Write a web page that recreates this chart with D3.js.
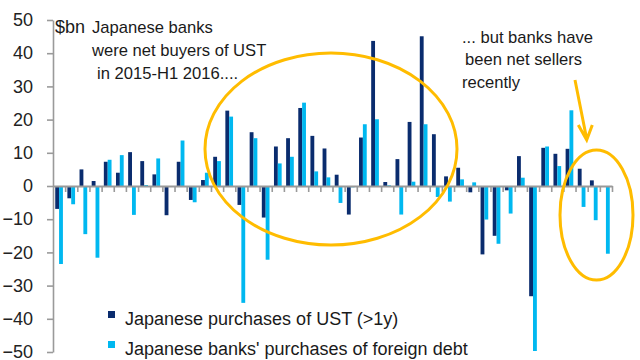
<!DOCTYPE html>
<html>
<head>
<meta charset="utf-8">
<script src="https://cdn.jsdelivr.net/npm/d3@7"></script>
<style>
  html, body { margin: 0; padding: 0; background: #fff; }
  svg { display: block; font-family: "Liberation Sans", Arial, sans-serif; }
</style>
</head>
<body>
<svg id="chart" width="640" height="360"></svg>
<script>
// ---- data (US$ bn, monthly) ----
const categories = d3.range(1, 47).map(i => "M" + i);
const ustPurchases = [-6.9, -3.7, 5.0, 1.5, 7.3, 4.0, 10.2, 7.5, 3.5, -8.8, 7.3, -4.2, 1.8, 8.8, 22.7, -5.7,
  16.2, -9.5, 11.9, 14.4, 23.5, 15.1, 11.3, 3.4, -8.6, 14.6, 43.7, 1.2, 8.1, 19.3, 45.1, 15.6, 2.9, 5.5,
  -1.9, -20.6, -15.0, -1.3, 9.0, -33.2, 11.5, 9.7, 11.2, 5.2, 1.7, 0];
const bankForeignDebt = [-23.5, -5.5, -14.5, -21.6, 7.9, 9.3, -8.7, 0.3, 8.3, -0.3, 13.7, -4.9, 4.0, 7.5, 20.9,
  -35.2, 14.4, -22.2, 6.8, 8.8, 25.1, 4.4, 2.6, -5.1, -0.4, 18.6, 20.1, 0.2, -8.6, 1.3, 18.6, -3.3, -4.7, 2.0,
  1.1, -10.1, -17.4, -8.3, 2.5, -49.7, 11.9, 6.0, 22.8, -6.3, -10.3, -20.4];
const seriesNames = ["Japanese purchases of UST (>1y)", "Japanese banks' purchases of foreign debt"];
const yTicks = [-50, -40, -30, -20, -10, 0, 10, 20, 30, 40, 50];

const colors = ["#0a2c6e", "#00b8f0"];
const svg = d3.select("#chart");

const x0 = 53, x1 = 612, yTop = 20, yBot = 352;
const x = d3.scaleBand().domain(categories).range([x0, x1]).padding(0);
const xs = d3.scaleBand().domain([0, 1]).range([0, x.bandwidth()]).paddingOuter(0.58).paddingInner(0);
const y = d3.scaleLinear().domain([-50, 50]).range([yBot, yTop]);

const rows = categories.map((c, i) => ({ c, v: [ustPurchases[i], bankForeignDebt[i]] }));

// bars
const g = svg.append("g");
rows.forEach(r => {
  r.v.forEach((v, k) => {
    if (v === 0) return;
    g.append("rect")
      .attr("x", x(r.c) + xs(k))
      .attr("width", xs.bandwidth())
      .attr("y", y(Math.max(0, v)))
      .attr("height", Math.abs(y(v) - y(0)))
      .attr("fill", colors[k]);
  });
});

// y axis
const yAxis = svg.append("g").attr("transform", `translate(${x0},0)`)
  .call(d3.axisLeft(y).tickValues(yTicks).tickSize(6).tickPadding(14).tickSizeOuter(0));
yAxis.select(".domain").attr("stroke", "#9a9a9a").attr("stroke-width", 1.6);
yAxis.selectAll(".tick line").attr("stroke", "#9a9a9a").attr("stroke-width", 1.6);
yAxis.selectAll(".tick text").attr("font-size", 18).attr("fill", "#222")
  .attr("font-family", "'Liberation Sans', Arial, sans-serif");

// x axis at zero (category boundaries)
const xi = d3.scaleLinear().domain([0, categories.length]).range([x0, x1]);
const xAxis = svg.append("g").attr("transform", `translate(0,${y(0)})`)
  .call(d3.axisBottom(xi).tickValues(d3.range(1, categories.length + 1)).tickFormat("").tickSize(6).tickSizeOuter(0));
xAxis.select(".domain").attr("stroke", "#9a9a9a").attr("stroke-width", 2.2);
xAxis.selectAll(".tick line").attr("stroke", "#9a9a9a").attr("stroke-width", 1.6);

// unit label & annotations
const txt = (s, tx, ty, fs) => svg.append("text").attr("x", tx).attr("y", ty)
  .attr("font-size", fs).attr("fill", "#1a1a1a").text(s);
txt("$bn", 55, 33, 18);
txt("Japanese banks", 92, 33, 16.6);
txt("were net buyers of UST", 92, 56, 16.6);
txt("in 2015-H1 2016....", 97, 79, 16.6);
txt("... but banks have", 462, 43, 16.6);
txt("been net sellers", 465, 65, 16.6);
txt("recently", 462, 88, 16.6);

// highlight ellipses and arrow
const gold = "#ffbc00";
svg.append("ellipse").attr("cx", 331).attr("cy", 149).attr("rx", 126).attr("ry", 96)
  .attr("fill", "none").attr("stroke", gold).attr("stroke-width", 3);
svg.append("ellipse").attr("cx", 596.5).attr("cy", 215).attr("rx", 36.5).attr("ry", 65)
  .attr("fill", "none").attr("stroke", gold).attr("stroke-width", 3);
svg.append("path").attr("d", "M575,80 L586.7,139 M578.3,125 L586.7,140 L592.3,125")
  .attr("fill", "none").attr("stroke", gold).attr("stroke-width", 3).attr("stroke-linejoin", "miter");

// legend
const leg = svg.append("g");
seriesNames.forEach((n, k) => {
  const ly = 325 + k * 30;
  leg.append("rect").attr("x", 108).attr("y", ly - 14).attr("width", 7).attr("height", 7).attr("fill", colors[k]);
  leg.append("text").attr("x", 125).attr("y", ly).attr("font-size", 18).attr("fill", "#1a1a1a").text(n);
});
</script>
</body>
</html>
